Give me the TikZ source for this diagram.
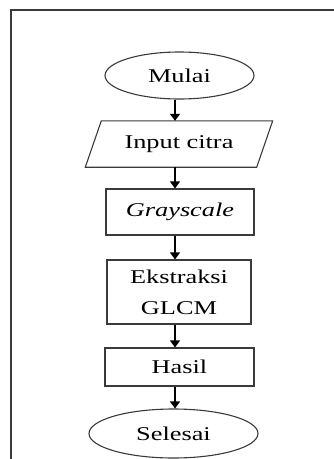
\documentclass[tikz,border=0pt]{standalone}
\usepackage{fontspec}
\setmainfont{Liberation Serif}[FakeStretch=1.35]
\usetikzlibrary{shapes.geometric,arrows.meta}
\definecolor{r58g58b58}{rgb}{0.227451,0.227451,0.227451}%
\tikzset{
  flowbox/.style={draw=r58g58b58,line width=1.1pt,rectangle,inner sep=0pt,align=center},
  flowend/.style={draw=r58g58b58,line width=1.1pt,ellipse,inner sep=0pt},
  flowline/.style={line width=1.1pt,draw=black,-{Triangle[length=7pt,width=10pt]}}
}
\begin{document}
\begin{tikzpicture}[x=1pt,y=-1pt]
                        \useasboundingbox (0,0) rectangle (334,459);
                        {\fontsize{19.5}{31}\selectfont

                        % Drawing frame
                        \draw [line width=1.4pt,r58g58b58] (11,459) -- (11,10) -- (334,10);%

                        % Marking nodes
                        \node [flowend,minimum width=149,minimum height=47] (mulai) at (179.5,75.5) {Mulai};%
                        \node [inner sep=0pt,minimum width=171,minimum height=46] (input) at (179,144) {Input citra};%
                        \node [flowbox,minimum width=148,minimum height=46] (gray) at (180,212) {\itshape Grayscale};%
                        \node [flowbox,minimum width=144,minimum height=64] (glcm) at (179,292) {Ekstraksi\\GLCM};%
                        \node [flowbox,minimum width=149,minimum height=38] (hasil) at (179.5,367) {Hasil};%
                        \node [flowend,minimum width=169,minimum height=49] (selesai) at (173.5,433.5) {Selesai};%

                        % Drawing parallelogram round input
                        \draw [line width=1.1pt,r58g58b58] ([xshift=8pt]input.north west) -- ([xshift=8pt]input.north east)
                          -- ([xshift=-8pt]input.south east) -- ([xshift=-8pt]input.south west) -- cycle;%

                        % Drawing arrows
                        \coordinate (ax) at (175,0);
                        \draw [flowline] (ax |- mulai.south) -- (ax |- input.north);%
                        \draw [flowline] (ax |- input.south) -- (ax |- gray.north);%
                        \draw [flowline] (ax |- gray.south) -- (ax |- glcm.north);%
                        \draw [flowline] (ax |- glcm.south) -- (ax |- hasil.north);%
                        \draw [flowline] (ax |- hasil.south) -- (ax |- selesai.north);%
                        }
\end{tikzpicture}
\end{document}
